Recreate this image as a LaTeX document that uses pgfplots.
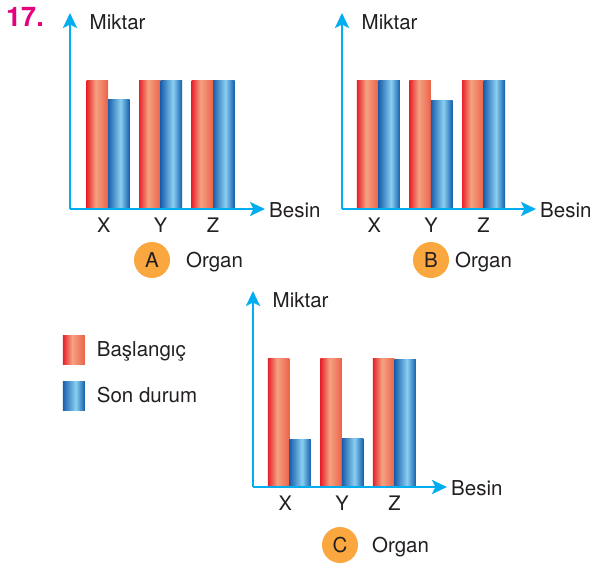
\documentclass[border=0pt]{standalone}
\usepackage{pgfplots}
\pgfplotsset{compat=1.18}
\usepackage{fontspec}
\setmainfont{TeX Gyre Heros}
\usetikzlibrary{arrows.meta}

\definecolor{axcyan}{HTML}{00AEEF}
\definecolor{txt}{HTML}{231F20}
\definecolor{magenta17}{HTML}{E5007D}
\definecolor{orangec}{HTML}{F9A73E}
\definecolor{redA}{HTML}{E8222A}
\definecolor{redM}{HTML}{F4A282}
\definecolor{redB}{HTML}{EC6248}
\definecolor{bluA}{HTML}{1A5FAC}
\definecolor{bluM}{HTML}{8ACFF1}
\definecolor{bluB}{HTML}{135FAB}

% horizontal gradients across each bar (25bp = left edge, 75bp = right edge)
\pgfdeclarehorizontalshading{redbar}{100bp}{color(0bp)=(redA); color(25bp)=(redA); color(46bp)=(redM); color(75bp)=(redB); color(100bp)=(redB)}
\pgfdeclarehorizontalshading{blubar}{100bp}{color(0bp)=(bluA); color(25bp)=(bluA); color(54bp)=(bluM); color(75bp)=(bluB); color(100bp)=(bluB)}

\pgfplotsset{
  organ/.style={
    scale only axis,
    height=196pt,
    ymin=0, ymax=15.2,
    ytick=\empty,
    xtick={-0.08,1,2},
    xticklabels={X,Y,Z},
    major tick length=0pt,
    axis lines=left,
    axis line style={draw=axcyan, line width=2.6pt},
    x axis line style={-{Stealth[length=15pt,width=14pt,inset=3.5pt]}},
    y axis line style={-{Stealth[length=15pt,width=14pt,inset=3.5pt]}},
    axis on top,
    clip=false,
    ybar=0pt,
    bar width=21.5pt,
    xticklabel style={anchor=center, yshift=-16.5pt, inner sep=0pt, font=\fontsize{20}{22}\selectfont, text=txt},
  },
  % one bar per plot, so that every bar gets its own gradient
  basl/.style={draw=none, shading=redbar, bar shift=-10.75pt, forget plot},
  son/.style={draw=none, shading=blubar, bar shift=10.75pt, forget plot},
}

\newcommand{\lab}{\fontsize{20.5}{23}\selectfont}

\begin{document}
\begin{tikzpicture}
\path[use as bounding box] (0,0) rectangle (596pt,-564pt);

\node[text=magenta17, font=\fontsize{27}{30}\selectfont\bfseries, anchor=center] at (25pt,-17pt) {17.};

% --- A ---
\begin{axis}[organ, at={(70pt,-209pt)}, anchor=south west,
  width=195pt, xmin=-0.724, xmax=2.990]
\addplot[basl] coordinates {(0,10)};
\addplot[basl] coordinates {(1,10)};
\addplot[basl] coordinates {(2,10)};
\addplot[son] coordinates {(0,8.5)};
\addplot[son] coordinates {(1,10)};
\addplot[son] coordinates {(2,10)};
\node[anchor=west, inner sep=0pt, text=txt, font=\lab] at (rel axis cs:1,0) [xshift=4pt, yshift=-1pt] {Besin};
\node[anchor=west, inner sep=0pt, text=txt, font=\lab] at (rel axis cs:0,1) [xshift=19.5pt, yshift=-9.5pt] {Miktar};
\end{axis}

% --- B ---
\begin{axis}[organ, at={(342pt,-209pt)}, anchor=south west,
  width=194pt, xmin=-0.695, xmax=3.0]
\addplot[basl] coordinates {(0,10)};
\addplot[basl] coordinates {(1,10)};
\addplot[basl] coordinates {(2,10)};
\addplot[son] coordinates {(0,10)};
\addplot[son] coordinates {(1,8.45)};
\addplot[son] coordinates {(2,10)};
\node[anchor=west, inner sep=0pt, text=txt, font=\lab] at (rel axis cs:1,0) [xshift=4pt, yshift=-1pt] {Besin};
\node[anchor=west, inner sep=0pt, text=txt, font=\lab] at (rel axis cs:0,1) [xshift=19.5pt, yshift=-9.5pt] {Miktar};
\end{axis}

% --- C ---
\begin{axis}[organ, at={(253pt,-487pt)}, anchor=south west,
  width=194pt, xmin=-0.695, xmax=3.0,
  legend style={at={(rel axis cs:-0.981,0.774)}, anchor=north west,
    draw=none, fill=none, inner sep=0pt, row sep=17pt,
    nodes={inner sep=0pt, text=txt, font=\lab},
    /tikz/every odd column/.append style={column sep=12pt}},
  legend cell align=left,
  legend image code/.code={\fill[#1] (0pt,-14.5pt) rectangle (22pt,14.5pt);},
  ]
\addplot[basl] coordinates {(0,10)};
\addplot[basl] coordinates {(1,10)};
\addplot[basl] coordinates {(2,10)};
\addplot[son] coordinates {(0,3.7)};
\addplot[son] coordinates {(1,3.8)};
\addplot[son] coordinates {(2,9.9)};
\addlegendimage{draw=none, shading=redbar}
\addlegendentry{Başlangıç}
\addlegendimage{draw=none, shading=blubar}
\addlegendentry{Son durum}
\node[anchor=west, inner sep=0pt, text=txt, font=\lab] at (rel axis cs:1,0) [xshift=4pt, yshift=-1pt] {Besin};
\node[anchor=west, inner sep=0pt, text=txt, font=\lab] at (rel axis cs:0,1) [xshift=19.5pt, yshift=-9.5pt] {Miktar};
\end{axis}

% organ captions
\fill[orangec] (152pt,-260pt) circle (18pt);
\node[text=txt, font=\lab] at (152pt,-260pt) {A};
\node[anchor=west, inner sep=0pt, text=txt, font=\lab] at (186pt,-262pt) {Organ};
\fill[orangec] (431pt,-260pt) circle (18pt);
\node[text=txt, font=\lab] at (431pt,-260pt) {B};
\node[anchor=west, inner sep=0pt, text=txt, font=\lab] at (455pt,-262pt) {Organ};
\fill[orangec] (340pt,-545pt) circle (18pt);
\node[text=txt, font=\lab] at (340pt,-545pt) {C};
\node[anchor=west, inner sep=0pt, text=txt, font=\lab] at (372pt,-547pt) {Organ};
\end{tikzpicture}
\end{document}
